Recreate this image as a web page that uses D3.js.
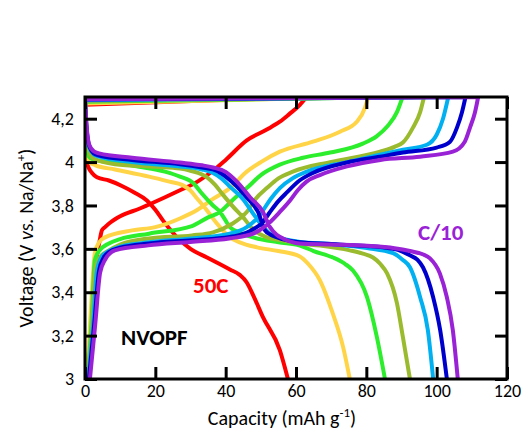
<!DOCTYPE html>
<html>
<head>
<meta charset="utf-8">
<script src="https://cdn.jsdelivr.net/npm/d3@7"></script>
<style>
  html, body { margin: 0; padding: 0; background: #fff; }
  svg { display: block; font-family: Calibri, Carlito, Lato, sans-serif; }
</style>
</head>
<body>
<svg id="chart" width="525" height="429"></svg>
<script>
// Galvanostatic charge/discharge profiles of NVOPF at different C-rates
const rates  = ["50C", "20C", "10C", "5C", "2C", "1C", "C/10"];
const colors = ["#FF0000", "#FFD447", "#2CEE2C", "#9BBB2F", "#00B0F0", "#0000CC", "#9A22D6"];

const xTicks = [0, 20, 40, 60, 80, 100, 120];
const yTicks = [3, 3.2, 3.4, 3.6, 3.8, 4, 4.2];

// [capacity (mAh/g), voltage (V)]
const charge50C = [[0.5,3.0],[1.5,3.2],[2.6,3.45],[3.5,3.58],[4.2,3.64],[4.8,3.685],[5.7,3.70],[7.1,3.72],[10,3.75],[15.6,3.786],[17.6,3.80],[27,3.87],[32,3.91],[36.4,3.96],[40,4.01],[46,4.10],[51.7,4.15],[55.4,4.186],[58,4.22],[61.1,4.264],[63,4.3]];
const discharge50C = [[0,4.264],[0.2,4.1],[0.5,4.0],[1,3.975],[2,3.95],[3.4,3.93],[6.8,3.915],[10.5,3.89],[14,3.86],[17.6,3.823],[20,3.78],[22.2,3.73],[27,3.64],[30,3.60],[34.7,3.56],[41.2,3.505],[44,3.48],[46,3.445],[48,3.38],[50.6,3.285],[55.4,3.133],[57.7,3.0]];

const charge20C = [[0.6,3.0],[1.6,3.3],[2.8,3.58],[4,3.63],[5.7,3.653],[13.4,3.685],[20,3.70],[27,3.74],[32,3.78],[36.4,3.83],[41.2,3.88],[46,3.956],[50,4.0],[55.4,4.048],[64.8,4.094],[72.5,4.14],[77.3,4.186],[79.6,4.25],[80.5,4.3]];
const discharge20C = [[0,4.27],[0.3,4.12],[0.7,4.02],[1.2,4.0],[3,3.985],[8.5,3.966],[18.2,3.933],[24,3.91],[27.6,3.895],[29.9,3.87],[32,3.83],[34.7,3.777],[37.5,3.717],[41.2,3.653],[44,3.63],[48.9,3.607],[55,3.59],[61.1,3.565],[63.5,3.53],[66.8,3.455],[70.5,3.30],[73.4,3.147],[75.3,3.0]];

const charge10C = [[0.7,3.0],[1.8,3.25],[2.8,3.547],[4,3.59],[6.8,3.625],[10,3.645],[18.2,3.67],[30.4,3.705],[35,3.745],[38.4,3.77],[40.4,3.80],[43,3.84],[46,3.88],[50,3.94],[55.4,3.988],[62,4.02],[69.7,4.044],[79,4.085],[83,4.12],[86,4.165],[88.7,4.23],[90.3,4.3]];
const discharge10C = [[0,4.278],[0.3,4.15],[0.6,4.07],[1.1,4.025],[2.5,4.01],[8.5,3.998],[15,3.98],[22.7,3.956],[27,3.933],[31,3.90],[33,3.86],[36.4,3.80],[38.4,3.77],[40,3.73],[41.2,3.70],[44,3.675],[47.8,3.653],[55,3.63],[61.1,3.615],[65,3.59],[70.5,3.56],[74,3.53],[76.2,3.50],[80.2,3.377],[83,3.193],[85.3,3.0]];

const charge5C = [[0.8,3.0],[2.0,3.25],[2.8,3.5],[4.2,3.56],[6.8,3.593],[10,3.62],[18.2,3.648],[30.4,3.662],[36.4,3.676],[42,3.717],[44,3.74],[46,3.77],[48.5,3.83],[51.7,3.88],[55,3.925],[59.1,3.956],[69.7,4.0],[83.9,4.048],[88,4.07],[90.4,4.09],[93.3,4.16],[95.3,4.23],[96.4,4.3]];
const discharge5C = [[0,4.282],[0.3,4.17],[0.6,4.1],[1.1,4.05],[2.5,4.015],[8.5,3.99],[20,3.978],[27,3.97],[30,3.96],[33.3,3.943],[34.7,3.93],[37,3.895],[39.2,3.85],[43.5,3.77],[44.5,3.754],[47.8,3.69],[51.7,3.653],[56,3.64],[61,3.625],[66.8,3.615],[75.3,3.593],[79,3.578],[81.9,3.56],[84,3.53],[85.9,3.487],[88.7,3.35],[90.4,3.193],[92.4,3.0]];

const charge2C = [[0.9,3.0],[2.3,3.25],[3.4,3.50],[4.8,3.565],[6.8,3.59],[10,3.61],[18.2,3.63],[30.4,3.648],[41.2,3.67],[46,3.70],[48.3,3.73],[50.3,3.77],[52.8,3.83],[55.4,3.88],[59,3.925],[63.1,3.956],[74.5,4.0],[83.9,4.034],[90.4,4.057],[97.2,4.08],[100,4.126],[101.8,4.2],[103.3,4.3]];
const discharge2C = [[0,4.285],[0.3,4.18],[0.6,4.12],[1.1,4.07],[2.5,4.035],[4,4.025],[13.4,4.0],[27,3.98],[33.3,3.966],[36.4,3.95],[38.8,3.925],[41.2,3.887],[45,3.828],[47.5,3.77],[50.3,3.708],[52.6,3.67],[55,3.653],[61.1,3.632],[70,3.622],[80.2,3.604],[87.6,3.58],[90.3,3.55],[92.4,3.515],[95.3,3.377],[97.5,3.225],[99,3.0]];

const charge1C = [[1.1,3.0],[2.6,3.25],[4,3.50],[5.3,3.56],[6.8,3.585],[10,3.605],[18.2,3.625],[30.4,3.64],[41.2,3.655],[46,3.675],[47.8,3.69],[50.4,3.72],[52.6,3.77],[55,3.82],[57.4,3.86],[61,3.915],[64.8,3.95],[74.5,3.998],[83.9,4.025],[90.4,4.044],[100,4.067],[103.8,4.094],[105.8,4.16],[107.2,4.23],[108.2,4.3]];
const discharge1C = [[0,4.288],[0.3,4.19],[0.6,4.13],[1.1,4.08],[2.5,4.04],[4,4.03],[13.4,4.01],[27,3.99],[33.3,3.975],[36.4,3.966],[39,3.945],[42,3.906],[46,3.837],[49.2,3.77],[51.2,3.685],[52.8,3.665],[54.6,3.653],[61,3.63],[70,3.622],[80,3.613],[84.7,3.607],[89,3.595],[92.4,3.57],[94.5,3.55],[96.1,3.515],[99,3.377],[101,3.225],[102.9,3.0]];

const chargeC10 = [[1.4,3.0],[2.9,3.25],[4.3,3.49],[5.7,3.55],[8.5,3.593],[18,3.616],[30,3.632],[41,3.648],[47.8,3.67],[51.7,3.71],[55.4,3.77],[58.3,3.823],[60.5,3.87],[63,3.91],[66.8,3.94],[74.5,3.98],[84,4.01],[95.3,4.025],[104.6,4.048],[108,4.094],[109.5,4.16],[110.9,4.23],[111.8,4.3]];
const dischargeC10 = [[0,4.29],[0.3,4.2],[0.6,4.14],[1.2,4.08],[2.5,4.05],[4,4.04],[13.4,4.02],[27,3.998],[33.3,3.985],[36.4,3.975],[40,3.955],[43.2,3.91],[47,3.837],[50.6,3.77],[52.6,3.70],[54.5,3.665],[56.3,3.648],[61,3.625],[70,3.62],[80.2,3.614],[88,3.603],[92.4,3.59],[96,3.575],[98.1,3.556],[100.9,3.487],[102.9,3.377],[104.6,3.225],[106,3.0]];

const chargeCurves    = [charge50C, charge20C, charge10C, charge5C, charge2C, charge1C, chargeC10];
const dischargeCurves = [discharge50C, discharge20C, discharge10C, discharge5C, discharge2C, discharge1C, dischargeC10];

const svg = d3.select("#chart");
const margin = { left: 85, right: 18, top: 97, bottom: 50 };
const W = 525, H = 429;

const x = d3.scaleLinear().domain([0, 120]).range([margin.left, W - margin.right]);
const y = d3.scaleLinear().domain([3, 4.3]).range([H - margin.bottom, margin.top]);

const fmt = d => String(d).replace(".", ",");

svg.append("clipPath").attr("id", "plotClip")
  .append("rect")
  .attr("x", x(0)).attr("y", y(4.3))
  .attr("width", x(120) - x(0)).attr("height", y(3) - y(4.3));

// curves: charge, return to zero capacity, discharge – one continuous stroke per rate
const line = d3.line().x(d => x(d[0])).y(d => y(d[1])).curve(d3.curveMonotoneX);
const curveLayer = svg.append("g").attr("clip-path", "url(#plotClip)");
rates.forEach((r, i) => {
  const p = line(chargeCurves[i]) + line(dischargeCurves[i]).replace(/^M/, "L");
  curveLayer.append("path")
    .attr("d", p)
    .attr("fill", "none")
    .attr("stroke", colors[i])
    .attr("stroke-width", 4)
    .attr("stroke-linejoin", "round");
});

// axes (ticks pointing inward on all four sides)
const tickLen = 12;
const styleAxis = g => {
  g.select(".domain").remove();
  g.selectAll(".tick line").attr("stroke", "#000").attr("stroke-width", 3);
  g.selectAll(".tick text").attr("fill", "#000").style("font-size", "18px")
    .style("font-family", "Calibri, Carlito, Lato, sans-serif");
};

svg.append("g").attr("transform", `translate(0,${y(3)})`)
  .call(d3.axisBottom(x).tickValues(xTicks).tickSize(-tickLen).tickFormat(fmt))
  .call(styleAxis)
  .call(g => g.selectAll(".tick text").attr("y", 5).attr("dy", "0.71em"));

svg.append("g").attr("transform", `translate(0,${y(4.3)})`)
  .call(d3.axisTop(x).tickValues(xTicks).tickSize(-tickLen).tickFormat(""))
  .call(styleAxis);

svg.append("g").attr("transform", `translate(${x(0)},0)`)
  .call(d3.axisLeft(y).tickValues(yTicks).tickSize(-tickLen).tickFormat(fmt))
  .call(styleAxis)
  .call(g => g.selectAll(".tick text").attr("x", -11));

svg.append("g").attr("transform", `translate(${x(120)},0)`)
  .call(d3.axisRight(y).tickValues(yTicks).tickSize(-tickLen).tickFormat(""))
  .call(styleAxis);

// frame
svg.append("rect")
  .attr("x", x(0)).attr("y", y(4.3))
  .attr("width", x(120) - x(0)).attr("height", y(3) - y(4.3))
  .attr("fill", "none").attr("stroke", "#000").attr("stroke-width", 3);

// axis titles
const xt = svg.append("text")
  .attr("x", 282).attr("y", 425)
  .attr("text-anchor", "middle").style("font-size", "20px").attr("fill", "#000");
xt.append("tspan").text("Capacity (mAh g");
xt.append("tspan").attr("dy", -8).style("font-size", "13px").text("-1");
xt.append("tspan").attr("dy", 8).text(")");

const yt = svg.append("text")
  .attr("transform", `translate(33,${(y(3) + y(4.3)) / 2}) rotate(-90)`)
  .attr("text-anchor", "middle").style("font-size", "20px").attr("fill", "#000");
yt.append("tspan").text("Voltage (V ");
yt.append("tspan").style("font-style", "italic").text("vs.");
yt.append("tspan").text(" Na/Na");
yt.append("tspan").attr("dy", -8).style("font-size", "13px").text("+");
yt.append("tspan").attr("dy", 8).text(")");

// annotations
svg.append("text").attr("x", 193).attr("y", 293)
  .style("font-size", "23px").style("font-weight", "bold").attr("fill", colors[0]).text(rates[0]);
svg.append("text").attr("x", 418).attr("y", 240)
  .style("font-size", "23px").style("font-weight", "bold").attr("fill", colors[6]).text(rates[6]);
svg.append("text").attr("x", 121).attr("y", 345)
  .style("font-size", "23px").style("font-weight", "bold").attr("fill", "#000").text("NVOPF");
</script>
</body>
</html>
